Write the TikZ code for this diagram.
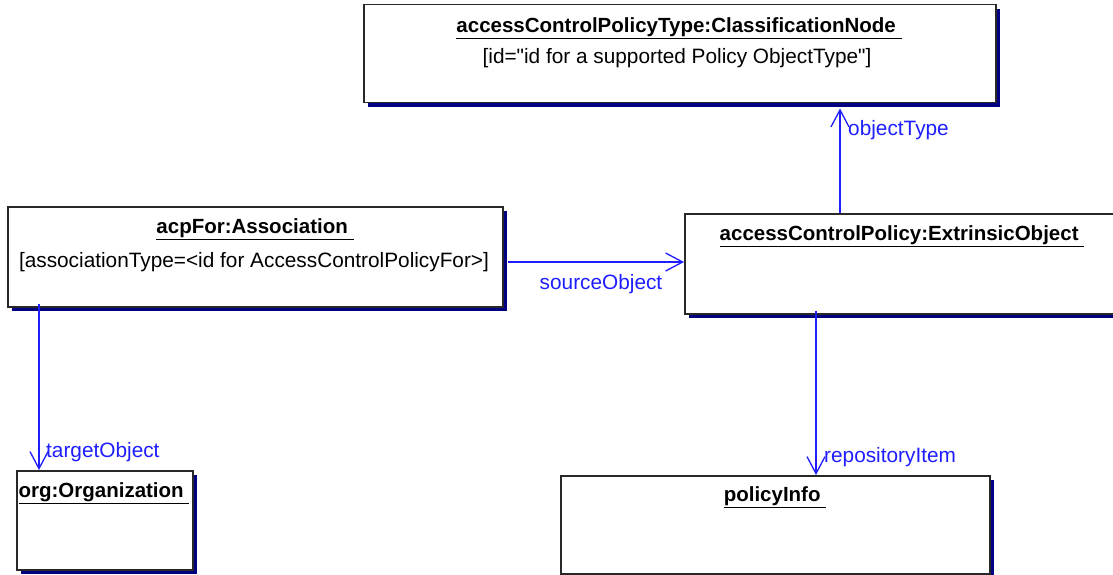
\documentclass[tikz,border=0pt]{standalone}
\usepackage{fontspec}
\setmainfont{Liberation Sans}
\usetikzlibrary{arrows.meta,shadows}
\definecolor{shadownavy}{RGB}{0,0,128}
\definecolor{linkblue}{RGB}{30,30,255}
\definecolor{edgegray}{RGB}{40,40,40}
\tikzset{
  objbox/.style={draw=edgegray, line width=1.5pt, fill=white, rectangle, inner sep=0pt, anchor=north west,
    drop shadow={shadow xshift=4.5pt, shadow yshift=-4.5pt, fill=shadownavy, opacity=1}},
  titletext/.style={inner sep=0pt, font=\fontsize{20.5}{24}\selectfont\bfseries},
  attrtext/.style={inner sep=0pt, font=\fontsize{20.8}{24}\selectfont},
  link/.style={draw=linkblue, line width=1.3pt, -{Straight Barb[length=17pt,width=18pt,line width=1.3pt]}},
  linklabel/.style={inner sep=0pt, text=linkblue, font=\fontsize{20.8}{24}\selectfont}
}
\begin{document}
\begin{tikzpicture}[x=1pt,y=-1pt]
\useasboundingbox (0,0) rectangle (1113,575);
\clip (0,0) rectangle (1113,575);
\fill[white] (0,0) rectangle (1113,575);

% boxes
\node[objbox, minimum width=632pt, minimum height=98pt] (cn) at (363,4) {};
\node[objbox, minimum width=495pt, minimum height=100pt] (assoc) at (7,206) {};
\node[objbox, minimum width=432pt, minimum height=100pt] (ext) at (684,213) {};
\node[objbox, minimum width=176pt, minimum height=99pt] (org) at (16,470) {};
\node[objbox, minimum width=429pt, minimum height=98pt] (pinfo) at (560,475) {};

% box texts
\node[titletext] (cnT) at (679,28) {\underline{accessControlPolicyType:ClassificationNode\ }};
\node[attrtext] (cnA) at (677,58) {[id=\textquotedbl id for a supported Policy ObjectType\textquotedbl]};
\node[titletext] (assocT) at (255,229) {\underline{acpFor:Association\ }};
\node[attrtext] (assocA) at (254,262) {[associationType=<id for AccessControlPolicyFor>]};
\node[titletext] (extT) at (902,236) {\underline{accessControlPolicy:ExtrinsicObject\ }};
\node[titletext] (orgT) at (104,493) {\underline{org:Organization\ }};
\node[titletext] (pinfoT) at (775,497) {\underline{policyInfo\ }};

% helper coordinates
\coordinate (ox) at (840,0);
\coordinate (sy) at (0,262);
\coordinate (tx) at (39,0);
\coordinate (rx) at (816,0);

% connectors
\draw[link] (ext.north -| ox) -- ([yshift=-5pt]cn.south -| ox);
\draw[link] ([xshift=4pt]assoc.east |- sy) -- (ext.west |- sy);
\draw[link] ([yshift=4pt]assoc.south -| tx) -- (org.north -| tx);
\draw[link] ([yshift=4pt]ext.south -| rx) -- (pinfo.north -| rx);

% connector labels
\node[linklabel, anchor=west] (lObj) at (848,130) {objectType};
\node[linklabel] (lSrc) at (601,284) {sourceObject};
\node[linklabel, anchor=west] (lTgt) at (46,452) {targetObject};
\node[linklabel, anchor=west] (lRep) at (824,457) {repositoryItem};
\end{tikzpicture}
\end{document}
